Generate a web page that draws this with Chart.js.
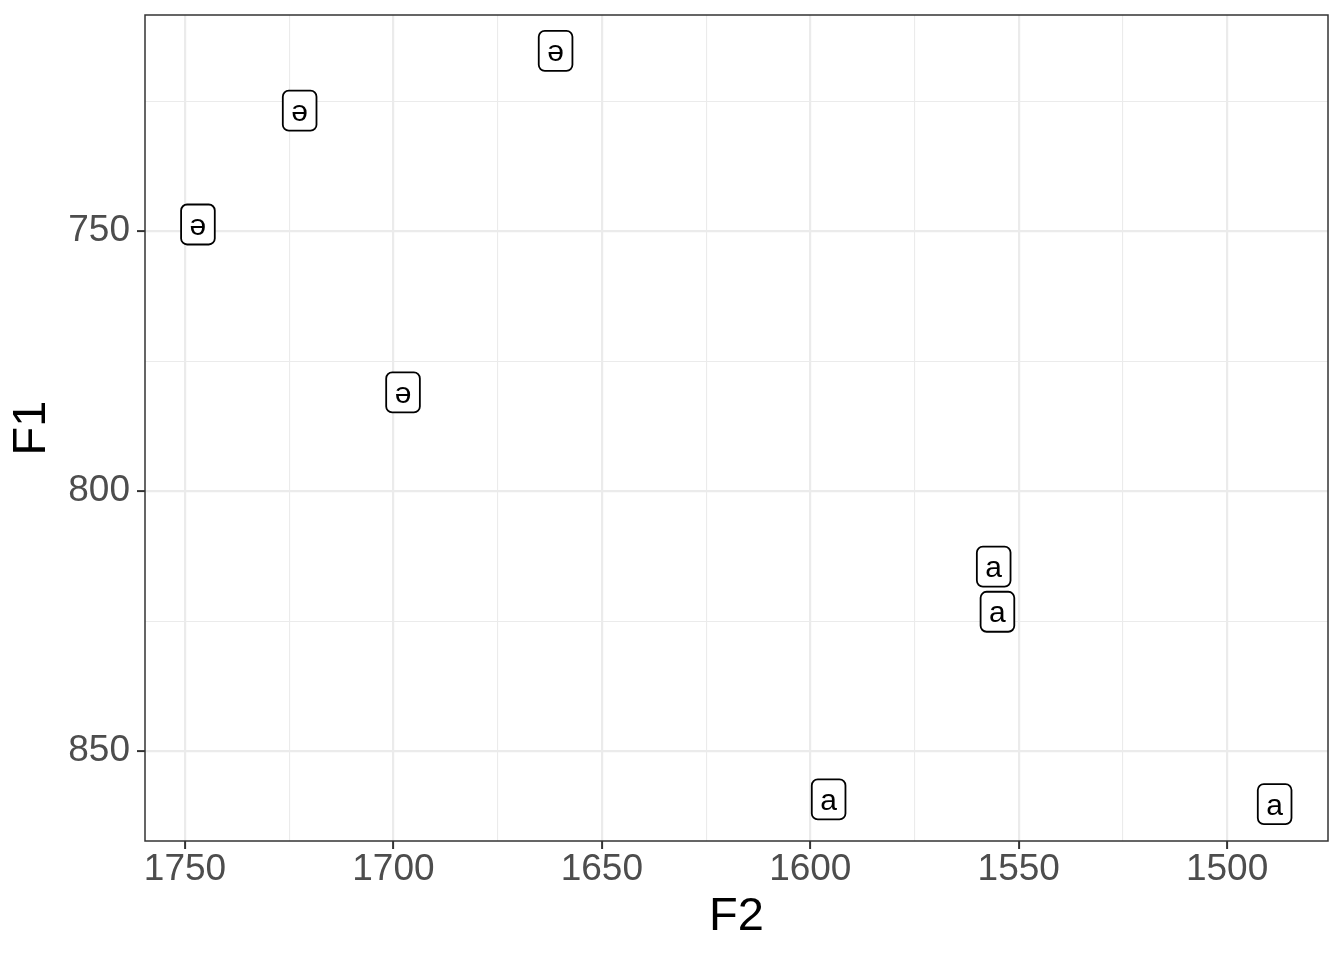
<!DOCTYPE html>
<html>
<head>
<meta charset="utf-8">
<script src="https://cdn.jsdelivr.net/npm/chart.js@4/dist/chart.umd.min.js"></script>
<style>
  html, body { margin: 0; padding: 0; background: #ffffff; }
  #wrap { width: 1344px; height: 960px; }
</style>
</head>
<body>
<div id="wrap"><canvas id="c" width="1344" height="960"></canvas></div>
<script>
// ---- data ----
const vowels = ['ə', 'ə', 'ə', 'ə', 'a', 'a', 'a', 'a'];
const f2Values = [1661.1, 1722.5, 1746.9, 1697.7, 1556.0, 1555.1, 1595.6, 1488.6];
const f1Values = [715.3, 726.8, 748.7, 781.0, 814.5, 823.2, 859.3, 860.2];
const xTicks = [1750, 1725, 1700, 1675, 1650, 1625, 1600, 1575, 1550, 1525, 1500];
const xMajor = [1750, 1700, 1650, 1600, 1550, 1500];
const yTicks = [725, 750, 775, 800, 825, 850];
const yMajor = [750, 800, 850];
const xLimits = [1475.8, 1759.6];
const yLimits = [708.4, 867.3];

const points = f2Values.map((x, i) => ({ x: x, y: f1Values[i] }));

const FONT = '"Liberation Sans", Arial, Helvetica, sans-serif';

function isMajor(list, v) { return list.some(m => Math.abs(m - v) < 1e-6); }

const labelPlugin = {
  id: 'labelBoxes',
  afterDatasetsDraw(chart) {
    const ctx = chart.ctx;
    const xs = chart.scales.x, ys = chart.scales.y;
    ctx.save();
    ctx.font = '30px ' + FONT;
    vowels.forEach((txt, i) => {
      const px = xs.getPixelForValue(f2Values[i]);
      const py = ys.getPixelForValue(f1Values[i]);
      const tw = ctx.measureText(txt).width;
      const w = tw + 17, h = 40, r = 6;
      const x0 = px - w / 2, y0 = py - h / 2;
      ctx.beginPath();
      ctx.roundRect(x0, y0, w, h, r);
      ctx.fillStyle = '#ffffff';
      ctx.fill();
      ctx.lineWidth = 1.8;
      ctx.strokeStyle = '#000000';
      ctx.stroke();
      ctx.fillStyle = '#000000';
      ctx.textAlign = 'center';
      ctx.textBaseline = 'alphabetic';
      ctx.fillText(txt, px, py + 10.5);
    });
    // panel border
    const a = chart.chartArea;
    ctx.lineWidth = 1.5;
    ctx.strokeStyle = '#333333';
    ctx.strokeRect(a.left, a.top, a.right - a.left, a.bottom - a.top);
    ctx.restore();
  }
};

new Chart(document.getElementById('c'), {
  type: 'scatter',
  data: {
    datasets: [{
      data: points,
      pointRadius: 0,
      pointHoverRadius: 0,
      showLine: false
    }]
  },
  options: {
    responsive: false,
    animation: false,
    devicePixelRatio: 1,
    events: [],
    layout: { padding: { top: 15, right: 16, left: 0, bottom: 0 } },
    plugins: { legend: { display: false }, tooltip: { enabled: false } },
    scales: {
      x: {
        type: 'linear',
        reverse: true,
        min: xLimits[0],
        max: xLimits[1],
        afterBuildTicks(scale) { scale.ticks = xTicks.map(v => ({ value: v })); },
        afterFit(scale) { scale.height = 119; scale.paddingLeft = 0; scale.paddingRight = 0; },
        ticks: {
          autoSkip: false,
          maxRotation: 0,
          minRotation: 0,
          padding: 2,
          color: '#4D4D4D',
          font: { family: FONT, size: 37, lineHeight: 1.0 },
          callback(v) { return isMajor(xMajor, v) ? String(v) : ''; }
        },
        grid: {
          color: '#EBEBEB',
          lineWidth: ctx => isMajor(xMajor, ctx.tick.value) ? 2.2 : 1.1,
          drawTicks: true,
          tickLength: 8,
          tickWidth: 2,
          tickColor: ctx => isMajor(xMajor, ctx.tick.value) ? '#333333' : 'rgba(0,0,0,0)'
        },
        border: { display: false },
        title: {
          display: true,
          text: 'F2',
          color: '#000000',
          font: { family: FONT, size: 47, lineHeight: 1.2 },
          padding: { top: 0, bottom: 15 }
        }
      },
      y: {
        type: 'linear',
        reverse: true,
        min: yLimits[0],
        max: yLimits[1],
        afterBuildTicks(scale) { scale.ticks = yTicks.map(v => ({ value: v })); },
        afterFit(scale) { scale.width = 145; scale.paddingTop = 0; scale.paddingBottom = 0; },
        ticks: {
          autoSkip: false,
          padding: 7,
          color: '#4D4D4D',
          font: { family: FONT, size: 37, lineHeight: 1.0 },
          callback(v) { return isMajor(yMajor, v) ? String(v) : ''; }
        },
        grid: {
          color: '#EBEBEB',
          lineWidth: ctx => isMajor(yMajor, ctx.tick.value) ? 2.2 : 1.1,
          drawTicks: true,
          tickLength: 8,
          tickWidth: 2,
          tickColor: ctx => isMajor(yMajor, ctx.tick.value) ? '#333333' : 'rgba(0,0,0,0)'
        },
        border: { display: false },
        title: {
          display: true,
          text: 'F1',
          color: '#000000',
          font: { family: FONT, size: 47, lineHeight: 1.2 },
          padding: { top: 4, bottom: 0 }
        }
      }
    }
  },
  plugins: [labelPlugin]
});
</script>
</body>
</html>
